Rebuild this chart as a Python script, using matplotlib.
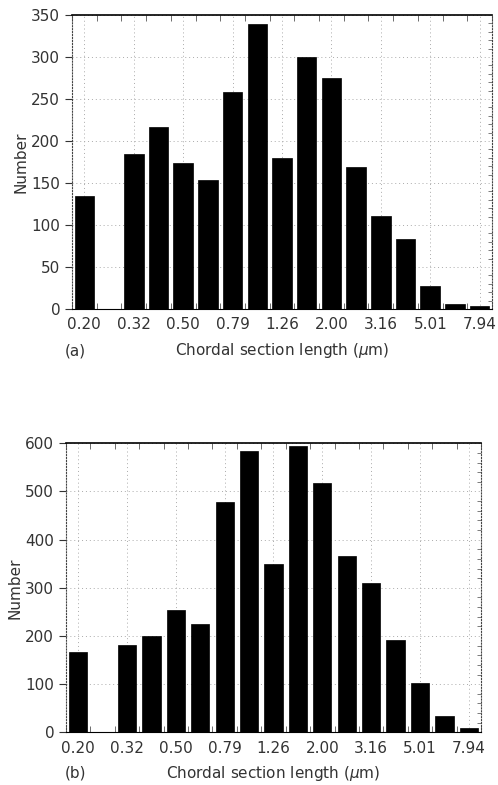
import matplotlib.pyplot as plt
from matplotlib.ticker import MultipleLocator, FixedLocator

# --- data (17 log-spaced bins) ---
size_labels = ['0.20', '0.32', '0.50', '0.79', '1.26', '2.00', '3.16', '5.01', '7.94']
counts_a = [135, 0, 185, 217, 174, 154, 258, 339, 180, 300, 275, 169, 111, 83, 27, 6, 4]
counts_b = [166, 0, 181, 200, 254, 225, 479, 584, 349, 595, 518, 365, 311, 192, 103, 34, 8]

plt.rcParams['font.family'] = ['DejaVu Sans']


def draw_panel(ax, counts, ymax, ystep, yminor, tag, tag_xy, barw):
    n = len(counts)
    x = list(range(n))
    ax.bar(x, counts, width=barw, color='black', edgecolor='black', linewidth=0.5, zorder=3)
    ax.set_xlim(-0.5, n - 0.5)
    ax.set_ylim(0, ymax)

    # labels centred on every other bin
    ax.xaxis.set_major_locator(FixedLocator(x[::2]))
    ax.set_xticklabels(size_labels, fontsize=11, color='#333')
    ax.tick_params(axis='x', which='major', length=0, pad=6)
    # small ticks at the bin edges, top and bottom
    ax.xaxis.set_minor_locator(FixedLocator([i - 0.5 for i in range(n + 1)]))
    ax.tick_params(axis='x', which='minor', direction='in', length=4, top=True, color='#555')

    ax.yaxis.set_major_locator(MultipleLocator(ystep))
    ax.yaxis.set_minor_locator(MultipleLocator(yminor))
    ax.tick_params(axis='y', which='major', direction='out', length=5, labelsize=11,
                   labelcolor='#333', color='#333')
    ax.tick_params(axis='y', which='minor', direction='in', length=3, right=True, left=False,
                   color='#666')

    # faint dotted grid like the scanned figure
    ax.grid(True, which='major', axis='both', linestyle=(0, (1, 3)), color='#aaa',
            linewidth=0.7, zorder=0)

    for side in ('left', 'right'):
        ax.spines[side].set_linestyle(':')
        ax.spines[side].set_color('#444')
    ax.spines['top'].set_linewidth(1.2)
    ax.spines['bottom'].set_linewidth(0.8)

    ax.set_ylabel('Number', fontsize=11, color='#333', labelpad=2)
    ax.set_xlabel('Chordal section length ($\\mu$m)', fontsize=11, color='#333', labelpad=6)
    ax.text(tag_xy[0], tag_xy[1], tag, transform=ax.transAxes,
            fontsize=11, color='#333', ha='center', va='center')


fig = plt.figure(figsize=(4.98, 7.85), dpi=100)

# --- (a) ---
ax_a = fig.add_axes([0.1446, 0.6064, 0.8434, 0.3745])
draw_panel(ax_a, counts_a, 350, 50, 10, '(a)', (0.008, -0.143), 0.79)

# --- (b) ---
ax_b = fig.add_axes([0.1325, 0.0671, 0.8333, 0.3682])
draw_panel(ax_b, counts_b, 600, 100, 20, '(b)', (0.022, -0.141), 0.75)

fig.savefig('out.png', dpi=100)
